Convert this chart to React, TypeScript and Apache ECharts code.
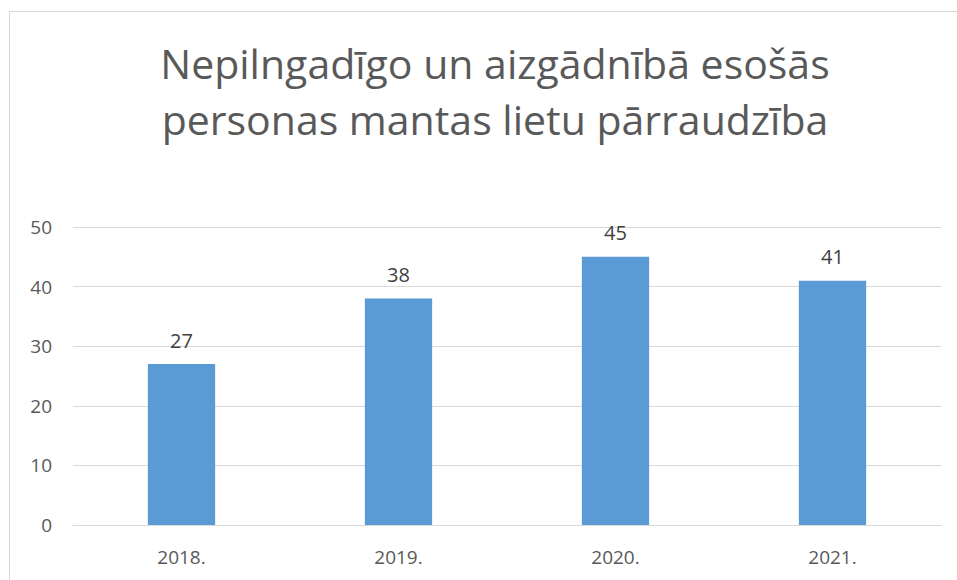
import React, { useEffect, useRef } from "react";
import * as echarts from "echarts";

const titleLines = ["Nepilngadīgo un aizgādnībā esošās", "personas mantas lietu pārraudzība"];
const categories = ["2018.", "2019.", "2020.", "2021."];
const values = [27, 38, 45, 41];
const yTicks = { min: 0, max: 50, interval: 10 };

export default function App() {
  const ref = useRef<HTMLDivElement>(null);
  useEffect(() => {
    if (!ref.current) return;
    const chart = echarts.init(ref.current, undefined, { renderer: "svg" });
    const font = "Open Sans, Noto Sans, sans-serif";
    chart.setOption({
      animation: false,
      backgroundColor: "#ffffff",
      title: {
        text: titleLines.join("\n"),
        left: 490,
        textAlign: "center",
        top: 30,
        textStyle: {
          fontFamily: font,
          fontSize: 41,
          fontWeight: "normal",
          color: "#595959",
          lineHeight: 56,
        },
      },
      graphic: [
        {
          type: "rect",
          shape: { x: 9.5, y: 11.5, width: 960, height: 600 },
          style: { fill: "none", stroke: "#d9d9d9", lineWidth: 1 },
          silent: true,
        },
      ],
      grid: { left: 73, right: 16, top: 227, bottom: 55 },
      xAxis: {
        type: "category",
        data: categories,
        axisLine: { lineStyle: { color: "#d9d9d9", width: 1 } },
        axisTick: { show: false },
        axisLabel: { color: "#595959", fontSize: 19, fontFamily: font, margin: 22 },
      },
      yAxis: {
        type: "value",
        min: yTicks.min,
        max: yTicks.max,
        interval: yTicks.interval,
        axisLine: { show: false },
        axisTick: { show: false },
        splitLine: { lineStyle: { color: "#d9d9d9", width: 1 } },
        axisLabel: { color: "#595959", fontSize: 19, fontFamily: font, margin: 21 },
      },
      series: [
        {
          type: "bar",
          data: values,
          barWidth: "31%",
          itemStyle: { color: "#5b9bd5" },
          label: {
            show: true,
            position: "top",
            distance: 14,
            color: "#404040",
            fontSize: 20,
            fontFamily: font,
          },
        },
      ],
    });
    return () => chart.dispose();
  }, []);
  return <div ref={ref} style={{ width: 957, height: 580, position: "absolute", left: 0, top: 0 }} />;
}
